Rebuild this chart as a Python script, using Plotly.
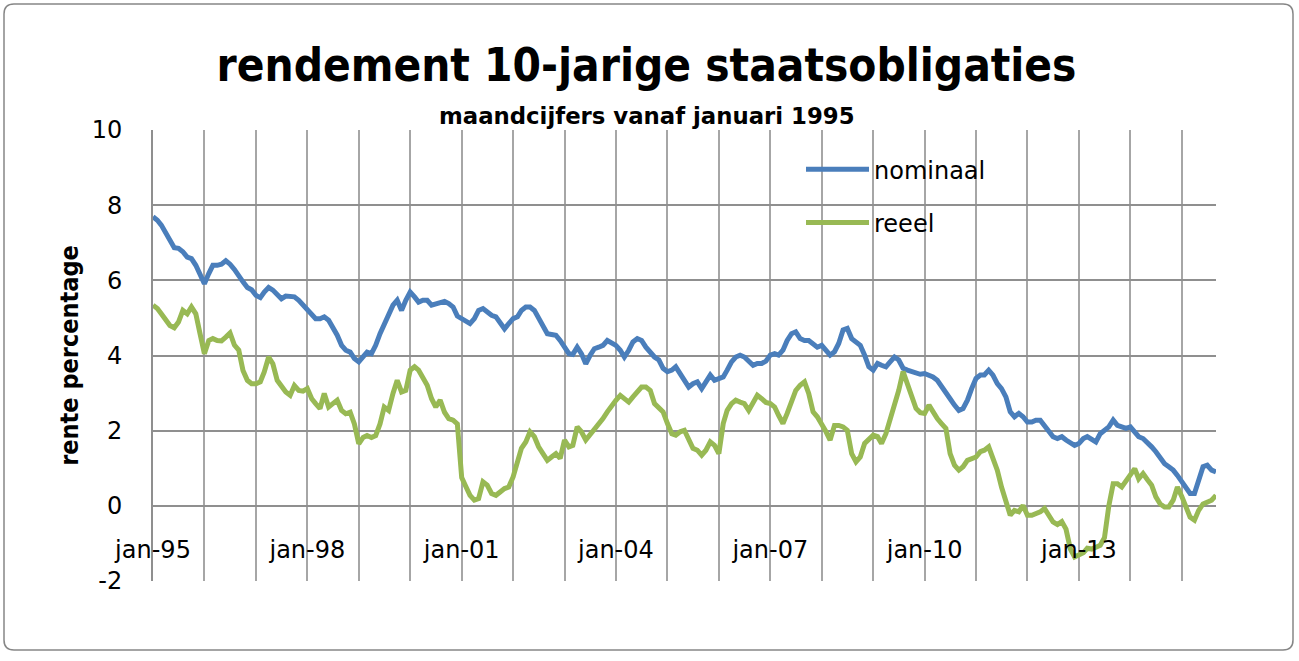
import pandas as pd
import plotly.graph_objects as go

# ---- data -------------------------------------------------------------
months = pd.date_range("1995-01-01", periods=249, freq="MS")

nominaal = [
    7.69, 7.60, 7.47, 7.25, 7.02, 6.87, 6.85, 6.76, 6.62, 6.58, 6.40, 6.13,
    5.91, 6.18, 6.40, 6.40, 6.43, 6.52, 6.43, 6.29, 6.09, 5.96, 5.81, 5.75,
    5.60, 5.54, 5.69, 5.81, 5.74, 5.63, 5.51, 5.58, 5.58, 5.56, 5.47, 5.35,
    5.20, 5.07, 4.98, 4.98, 5.03, 4.94, 4.76, 4.54, 4.27, 4.14, 4.09, 3.92,
    3.83, 3.96, 4.09, 4.05, 4.27, 4.58, 4.85, 5.11, 5.34, 5.47, 5.20, 5.47,
    5.69, 5.56, 5.42, 5.47, 5.47, 5.34, 5.38, 5.42, 5.44, 5.38, 5.29, 5.05,
    4.98, 4.94, 4.85, 4.98, 5.20, 5.25, 5.16, 5.07, 5.03, 4.89, 4.71, 4.85,
    4.98, 5.03, 5.20, 5.29, 5.29, 5.20, 4.98, 4.76, 4.58, 4.56, 4.54, 4.40,
    4.22, 4.05, 4.03, 4.22, 4.05, 3.78, 4.00, 4.18, 4.22, 4.27, 4.40, 4.35,
    4.27, 4.14, 3.96, 4.14, 4.36, 4.45, 4.40, 4.22, 4.09, 3.96, 3.88, 3.66,
    3.57, 3.61, 3.70, 3.52, 3.34, 3.16, 3.25, 3.30, 3.12, 3.30, 3.48, 3.34,
    3.39, 3.43, 3.61, 3.83, 3.96, 4.01, 3.96, 3.83, 3.74, 3.79, 3.79, 3.85,
    4.01, 4.05, 4.01, 4.14, 4.40, 4.58, 4.63, 4.45, 4.40, 4.40, 4.32, 4.22,
    4.27, 4.14, 4.01, 4.10, 4.32, 4.68, 4.72, 4.45, 4.36, 4.27, 4.01, 3.70,
    3.61, 3.79, 3.74, 3.70, 3.83, 3.96, 3.88, 3.66, 3.61, 3.57, 3.52, 3.50,
    3.52, 3.48, 3.43, 3.34, 3.16, 2.99, 2.85, 2.68, 2.54, 2.59, 2.81, 3.12,
    3.39, 3.48, 3.48, 3.61, 3.48, 3.25, 3.12, 2.90, 2.50, 2.37, 2.46, 2.37,
    2.23, 2.23, 2.28, 2.28, 2.14, 1.97, 1.84, 1.79, 1.84, 1.75, 1.66, 1.61,
    1.66, 1.79, 1.84, 1.75, 1.70, 1.92, 2.01, 2.10, 2.28, 2.14, 2.10, 2.06,
    2.10, 1.97, 1.84, 1.79, 1.70, 1.57, 1.44, 1.26, 1.12, 1.04, 0.95, 0.81,
    0.64, 0.46, 0.33, 0.33, 0.68, 1.04, 1.08, 0.95, 0.90,
]

reeel = [
    5.34, 5.25, 5.11, 4.94, 4.80, 4.74, 4.89, 5.20, 5.11, 5.29, 5.11, 4.58,
    4.05, 4.40, 4.45, 4.40, 4.39, 4.49, 4.60, 4.28, 4.14, 3.60, 3.34, 3.25,
    3.25, 3.30, 3.56, 3.96, 3.78, 3.34, 3.16, 3.03, 2.94, 3.20, 3.07, 3.05,
    3.12, 2.85, 2.72, 2.59, 2.99, 2.63, 2.72, 2.81, 2.54, 2.45, 2.49, 2.18,
    1.65, 1.82, 1.87, 1.82, 1.87, 2.18, 2.63, 2.54, 2.99, 3.34, 3.03, 3.07,
    3.61, 3.70, 3.61, 3.43, 3.21, 2.85, 2.63, 2.81, 2.49, 2.32, 2.28, 2.18,
    0.75, 0.50, 0.28, 0.15, 0.19, 0.64, 0.55, 0.33, 0.28, 0.37, 0.46, 0.50,
    0.77, 1.17, 1.53, 1.70, 1.97, 1.84, 1.57, 1.39, 1.21, 1.30, 1.39, 1.26,
    1.75, 1.57, 1.61, 2.10, 1.97, 1.75, 1.88, 2.06, 2.19, 2.32, 2.50, 2.68,
    2.81, 2.94, 2.85, 2.76, 2.90, 3.03, 3.16, 3.16, 3.07, 2.72, 2.59, 2.50,
    2.19, 1.92, 1.88, 1.97, 2.01, 1.79, 1.53, 1.48, 1.35, 1.48, 1.70, 1.61,
    1.39, 2.19, 2.54, 2.72, 2.81, 2.76, 2.72, 2.54, 2.72, 2.94, 2.85, 2.75,
    2.72, 2.63, 2.41, 2.19, 2.46, 2.81, 3.07, 3.21, 3.30, 2.99, 2.50, 2.37,
    2.19, 1.97, 1.75, 2.14, 2.14, 2.10, 2.01, 1.39, 1.17, 1.30, 1.66, 1.79,
    1.88, 1.84, 1.66, 1.92, 2.28, 2.63, 3.07, 3.57, 3.26, 2.90, 2.59, 2.48,
    2.46, 2.68, 2.50, 2.32, 2.19, 2.06, 1.39, 1.08, 0.95, 1.04, 1.21, 1.26,
    1.30, 1.44, 1.48, 1.57, 1.30, 0.95, 0.50, 0.10, -0.25, -0.12, -0.16, 0.01,
    -0.25, -0.25, -0.21, -0.16, -0.07, -0.25, -0.43, -0.50, -0.42, -0.62, -1.15, -1.36,
    -1.30, -1.25, -1.13, -1.15, -1.10, -1.05, -0.85, 0.00, 0.59, 0.59, 0.50, 0.65,
    0.85, 0.99, 0.72, 0.86, 0.70, 0.55, 0.24, 0.05, -0.03, -0.03, 0.15, 0.50,
    0.25, -0.05, -0.30, -0.38, -0.12, 0.05, 0.10, 0.15, 0.28,
]

year_ticks = pd.date_range("1995-01-01", "2015-01-01", freq="YS")
year_labels = [d.strftime("jan-%y") if (d.year - 1995) % 3 == 0 else "" for d in year_ticks]

y_ticks = [-2, 0, 2, 4, 6, 8, 10]
y_labels = ["-2", "0", "2", "4", "6", "8", "10"]

title_text = "rendement 10-jarige staatsobligaties"
subtitle_text = "maandcijfers vanaf januari 1995"
y_title = "rente percentage"

# ---- figure -----------------------------------------------------------
FONT = "Tahoma, 'DejaVu Sans', Verdana, sans-serif"
COND_BOLD = "'DejaVu Sans Condensed', 'DejaVu Sans', sans-serif"

fig = go.Figure()
fig.add_trace(go.Scatter(x=months, y=nominaal, mode="lines", name="nominaal",
                         line=dict(color="#4A7EBB", width=5), legendgroup="a"))
fig.add_trace(go.Scatter(x=months, y=reeel, mode="lines", name="reeel",
                         line=dict(color="#98B954", width=5), legendgroup="b"))

fig.update_layout(
    width=1299, height=661,
    margin=dict(l=153, r=83, t=130, b=80),
    paper_bgcolor="white", plot_bgcolor="white",
    font=dict(family=FONT, size=24, color="black"),
    title=dict(text="<b>" + title_text + "</b>", x=0.4977, xref="container", xanchor="center",
               y=0.902, yref="container", yanchor="middle",
               font=dict(family=COND_BOLD, size=45.5, color="black")),
    showlegend=True,
    legend=dict(x=0.6096, y=0.962, xanchor="left", yanchor="top",
                bgcolor="rgba(0,0,0,0)", font=dict(size=24, family=FONT),
                tracegroupgap=19, itemwidth=63),
    xaxis=dict(type="date", range=[months[0], months[-1]],
               tickmode="array", tickvals=year_ticks, ticktext=year_labels,
               showgrid=True, gridcolor="#A6A6A6", gridwidth=2,
               showline=False, ticks="", anchor="free", position=2 / 12,
               ticklabelstandoff=27, tickfont=dict(size=24, family=FONT),
               zeroline=False, automargin=False),
    yaxis=dict(range=[-2, 10], tickmode="array", tickvals=y_ticks, ticktext=y_labels,
               showgrid=True, gridcolor="#8F8F8F", gridwidth=2,
               zeroline=False, showline=True, linecolor="#8F8F8F", linewidth=2,
               ticks="", ticklabelstandoff=24, tickfont=dict(size=24, family=FONT),
               automargin=False,
               title=dict(text="<b>" + y_title + "</b>", standoff=6,
                          font=dict(size=25, family=COND_BOLD))),
)

fig.add_annotation(text="<b>" + subtitle_text + "</b>", xref="paper", yref="paper",
                   x=0.4647, y=1.031, xanchor="center", yanchor="middle", showarrow=False,
                   font=dict(size=22.8, family="'DejaVu Sans', sans-serif", color="black"))

# outer rounded border of the chart
x0, x1 = (4 - 153) / 1063, (1293 - 153) / 1063
y0, y1 = (581 - 650) / 451, (581 - 4) / 451
rx, ry = 10 / 1063, 10 / 451
path = (f"M{x0 + rx},{y0} L{x1 - rx},{y0} Q{x1},{y0} {x1},{y0 + ry} "
        f"L{x1},{y1 - ry} Q{x1},{y1} {x1 - rx},{y1} L{x0 + rx},{y1} "
        f"Q{x0},{y1} {x0},{y1 - ry} L{x0},{y0 + ry} Q{x0},{y0} {x0 + rx},{y0} Z")
fig.add_shape(type="path", path=path, xref="paper", yref="paper",
              line=dict(color="#868686", width=1.5), layer="below")

fig.write_html("out.html", config={"displayModeBar": False},
               post_script="document.body.style.margin='0';")
